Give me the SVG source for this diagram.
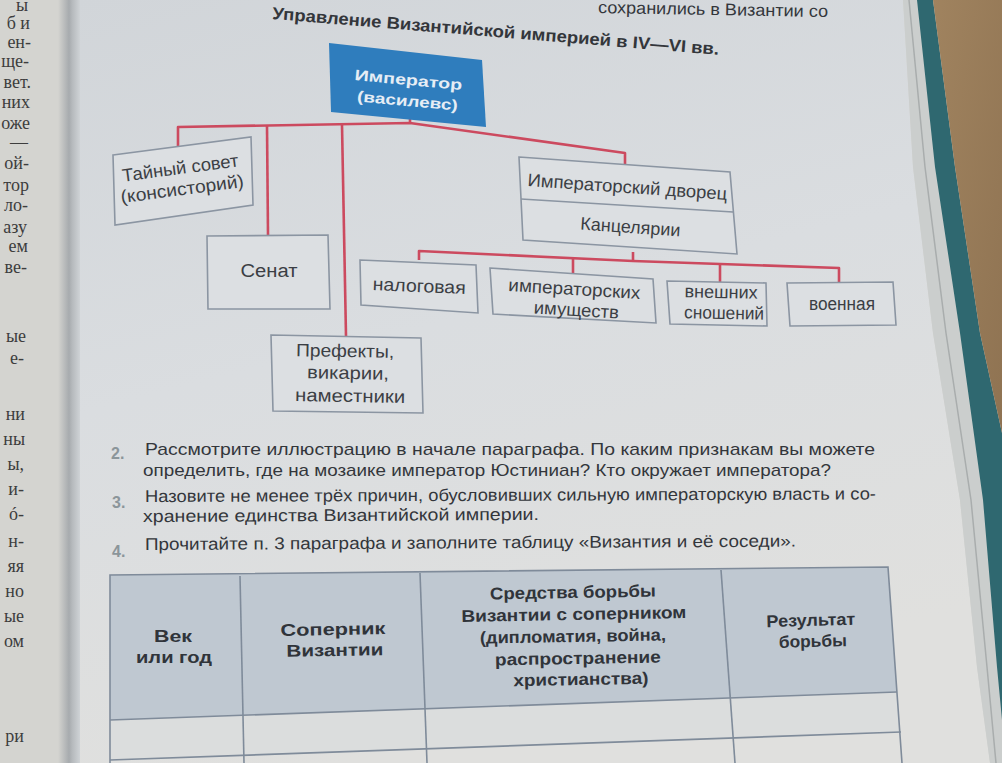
<svg xmlns="http://www.w3.org/2000/svg" width="1002" height="763" viewBox="0 0 1002 763">
<defs>
<linearGradient id="pageR" x1="0" y1="0" x2="0.3" y2="1">
<stop offset="0" stop-color="#d1d5d9"/>
<stop offset="0.5" stop-color="#dadde0"/>
<stop offset="1" stop-color="#e0e0de"/>
</linearGradient>
<linearGradient id="gutter" x1="0" y1="0" x2="1" y2="0">
<stop offset="0" stop-color="#d4d4d0"/>
<stop offset="0.5" stop-color="#a7abae"/>
<stop offset="0.65" stop-color="#b6babd"/>
<stop offset="1" stop-color="#cfd3d6"/>
</linearGradient>
<linearGradient id="wood" x1="0" y1="0" x2="1" y2="1">
<stop offset="0" stop-color="#a0835f"/>
<stop offset="1" stop-color="#8f7352"/>
</linearGradient>
<style>
.box{fill:#dcdfe2;stroke:#8b95a2;stroke-width:1.6}
.bt{font-family:"Liberation Sans","Open Sans",sans-serif;font-size:18px;fill:#3b3e44;text-anchor:middle}
.emp{font-family:"Liberation Sans","Open Sans",sans-serif;font-size:15px;font-weight:bold;fill:#e6edf5;text-anchor:middle}
.conn{fill:none;stroke:#cc4a5f;stroke-width:2.6;stroke-linejoin:round}
.q{font-family:"Liberation Sans","Open Sans",sans-serif;font-size:17px;fill:#33363b}
.qn{font-family:"Liberation Sans","Open Sans",sans-serif;font-size:16px;font-weight:bold;fill:#8b959a}
.th{font-family:"Liberation Sans","Open Sans",sans-serif;font-size:17px;font-weight:bold;fill:#30343a;text-anchor:middle}
.tl{fill:none;stroke:#7f8b9a;stroke-width:1.6}
.lp{font-family:"Liberation Serif","DejaVu Serif",serif;font-size:18px;fill:#3d3d3d;text-anchor:end}
</style>
</defs>

<!-- background -->
<g id="background">
<rect x="0" y="0" width="1002" height="763" fill="#d4d4d0"/>
<polygon points="72,0 903,0 913,167 933,333 960,500 977,667 990,763 72,763" fill="url(#pageR)"/>
<rect x="58" y="0" width="22" height="763" fill="url(#gutter)"/>
<polygon points="903,0 917,0 935,167 960,333 983,500 997,667 1002,720 1002,763 990,763 977,667 960,500 933,333 913,167" fill="#cbcecd"/>
<polyline points="909,0 925,167 946,333 971,500 987,667 996,763" fill="none" stroke="#a9adad" stroke-width="1.5"/>
<polygon points="917,0 933,0 955,167 980,333 1002,433 1002,720 997,667 983,500 960,333 935,167" fill="#2f6870"/>
<polygon points="933,0 1002,0 1002,433 980,333 955,167" fill="url(#wood)"/>
</g>

<!-- left page fragments -->
<g id="left-page">
<text class="lp" x="28" y="11" font-size="11">ы</text>
<text class="lp" x="30" y="29">б и</text>
<text class="lp" x="31" y="48">ен-</text>
<text class="lp" x="29" y="67">ще-</text>
<text class="lp" x="31" y="88">вет.</text>
<text class="lp" x="30" y="108">них</text>
<text class="lp" x="30" y="129">оже</text>
<text class="lp" x="28" y="148">—</text>
<text class="lp" x="29" y="169">ой-</text>
<text class="lp" x="29" y="191">тор</text>
<text class="lp" x="28" y="211">ло-</text>
<text class="lp" x="27" y="233">азу</text>
<text class="lp" x="28" y="252">ем</text>
<text class="lp" x="27" y="273">ве-</text>
<text class="lp" x="26" y="342">ые</text>
<text class="lp" x="24" y="364">е-</text>
<text class="lp" x="25" y="420">ни</text>
<text class="lp" x="25" y="445">ны</text>
<text class="lp" x="24" y="470">ы,</text>
<text class="lp" x="24" y="495">и-</text>
<text class="lp" x="24" y="520">ó-</text>
<text class="lp" x="24" y="547">н-</text>
<text class="lp" x="24" y="572">яя</text>
<text class="lp" x="24" y="597">но</text>
<text class="lp" x="24" y="622">ые</text>
<text class="lp" x="24" y="647">ом</text>
<text class="lp" x="24" y="742">ри</text>
</g>

<!-- header texts -->
<g id="page-header">
<text class="q" x="598" y="13" font-size="15" textLength="230" lengthAdjust="spacingAndGlyphs" transform="rotate(1 598 13)">сохранились в Византии со</text>
<text class="q" x="272" y="19" font-size="18" font-weight="bold" fill="#2c2f34" textLength="448" lengthAdjust="spacingAndGlyphs" transform="rotate(4.6 272 19)">Управление Византийской империей в IV—VI вв.</text>
</g>

<!-- connectors -->
<g id="connectors">
<polyline class="conn" points="178,147 178,127 410,123 625,153 625,164"/>
<line class="conn" x1="410" y1="123" x2="410" y2="119"/>
<line class="conn" x1="267" y1="126" x2="268" y2="235"/>
<line class="conn" x1="342" y1="125" x2="346" y2="336"/>
<polyline class="conn" points="419,260 419,251 633,261 839,268 839,283"/>
<line class="conn" x1="633" y1="252" x2="633" y2="261"/>
<line class="conn" x1="573" y1="258" x2="573" y2="273"/>
<line class="conn" x1="720" y1="264" x2="720" y2="282"/>
</g>

<!-- nodes -->
<g id="node-emperor">
<polygon points="329,43 482,60 486,127 331,112" fill="#2f7dbd"/>
<text class="emp" x="408" y="85" textLength="108" lengthAdjust="spacingAndGlyphs" transform="rotate(5.3 408 85)">Император</text>
<text class="emp" x="407" y="106" textLength="101" lengthAdjust="spacingAndGlyphs" transform="rotate(5.3 407 106)">(василевс)</text>
</g>

<g id="node-council">
<polygon class="box" points="113,155 251,137 253,205 115,225"/>
<text class="bt" x="181" y="174" textLength="117" lengthAdjust="spacingAndGlyphs" transform="rotate(-7.5 181 174)">Тайный совет</text>
<text class="bt" x="183" y="195" textLength="124" lengthAdjust="spacingAndGlyphs" transform="rotate(-7.5 183 195)">(консисторий)</text>
</g>

<g id="node-senate">
<polygon class="box" points="207,236 328,235 330,309 208,309"/>
<text class="bt" x="269" y="277" textLength="57" lengthAdjust="spacingAndGlyphs">Сенат</text>
</g>

<g id="node-prefects">
<polygon class="box" points="271,335 421,338 423,413 273,411"/>
<text class="bt" x="345" y="357" textLength="98" lengthAdjust="spacingAndGlyphs" transform="rotate(1 345 357)">Префекты,</text>
<text class="bt" x="348" y="379" textLength="82" lengthAdjust="spacingAndGlyphs" transform="rotate(1 348 379)">викарии,</text>
<text class="bt" x="350" y="402" textLength="110" lengthAdjust="spacingAndGlyphs" transform="rotate(1 350 402)">наместники</text>
</g>

<g id="node-palace">
<polygon class="box" points="519,157 730,172 737,254 523,240"/>
<line class="box" x1="521" y1="199" x2="733" y2="212"/>
<text class="bt" x="627" y="193" textLength="200" lengthAdjust="spacingAndGlyphs" transform="rotate(4 627 193)">Императорский дворец</text>
<text class="bt" x="630" y="233" textLength="100" lengthAdjust="spacingAndGlyphs" transform="rotate(4 630 233)">Канцелярии</text>
</g>

<g id="node-tax">
<polygon class="box" points="360,260 476,265 478,313 361,305"/>
<text class="bt" x="419" y="292" textLength="93" lengthAdjust="spacingAndGlyphs" transform="rotate(2.5 419 292)">налоговая</text>
</g>

<g id="node-estates">
<polygon class="box" points="490,268 653,279 656,323 493,314"/>
<text class="bt" x="574" y="295" textLength="132" lengthAdjust="spacingAndGlyphs" transform="rotate(3.5 574 295)">императорских</text>
<text class="bt" x="576" y="316" textLength="85" lengthAdjust="spacingAndGlyphs" transform="rotate(3.5 576 316)">имуществ</text>
</g>

<g id="node-foreign">
<polygon class="box" points="667,281 766,283 767,326 670,324"/>
<text class="bt" x="721" y="298" textLength="73" lengthAdjust="spacingAndGlyphs" transform="rotate(1 721 298)">внешних</text>
<text class="bt" x="724" y="319" textLength="80" lengthAdjust="spacingAndGlyphs" transform="rotate(1 724 319)">сношений</text>
</g>

<g id="node-military">
<polygon class="box" points="787,283 893,282 896,325 790,326"/>
<text class="bt" x="842" y="310" textLength="66" lengthAdjust="spacingAndGlyphs">военная</text>
</g>

<!-- questions -->
<g id="questions">
<text class="qn" x="111" y="459">2.</text>
<text class="q" x="145" y="455" textLength="730" lengthAdjust="spacingAndGlyphs">Рассмотрите иллюстрацию в начале параграфа. По каким признакам вы можете</text>
<text class="q" x="143" y="476" textLength="688" lengthAdjust="spacingAndGlyphs">определить, где на мозаике император Юстиниан? Кто окружает императора?</text>
<text class="qn" x="112" y="508">3.</text>
<text class="q" x="145" y="502" textLength="731" lengthAdjust="spacingAndGlyphs" transform="rotate(-0.2 145 502)">Назовите не менее трёх причин, обусловивших сильную императорскую власть и со-</text>
<text class="q" x="143" y="522" textLength="396" lengthAdjust="spacingAndGlyphs" transform="rotate(-0.3 143 522)">хранение единства Византийской империи.</text>
<text class="qn" x="112" y="557">4.</text>
<text class="q" x="145" y="550" textLength="651" lengthAdjust="spacingAndGlyphs" transform="rotate(-0.3 145 550)">Прочитайте п. 3 параграфа и заполните таблицу «Византия и её соседи».</text>
</g>

<!-- table -->
<g id="table">
<polygon points="110,575 888,567 897,692 110,720" fill="#bfc8d1"/>
<polygon points="110,720 897,692 901,732 110,760" fill="#dbdddd"/>
<polyline class="tl" points="110,763 110,575 888,567 902,763"/>
<line class="tl" x1="110" y1="720" x2="897" y2="692"/>
<line class="tl" x1="110" y1="760" x2="901" y2="732"/>
<line class="tl" x1="240" y1="576" x2="244" y2="763"/>
<line class="tl" x1="420" y1="573" x2="427" y2="763"/>
<line class="tl" x1="721" y1="570" x2="735" y2="763"/>
<text class="th" x="173" y="642" textLength="38" lengthAdjust="spacingAndGlyphs">Век</text>
<text class="th" x="174" y="663" textLength="76" lengthAdjust="spacingAndGlyphs">или год</text>
<text class="th" x="333" y="635" textLength="105" lengthAdjust="spacingAndGlyphs" transform="rotate(-1 333 635)">Соперник</text>
<text class="th" x="335" y="656" textLength="97" lengthAdjust="spacingAndGlyphs" transform="rotate(-1 335 656)">Византии</text>
<text class="th" x="573" y="598" textLength="166" lengthAdjust="spacingAndGlyphs" transform="rotate(-1 573 598)">Средства борьбы</text>
<text class="th" x="574" y="620" textLength="225" lengthAdjust="spacingAndGlyphs" transform="rotate(-1 574 620)">Византии с соперником</text>
<text class="th" x="573" y="642" textLength="186" lengthAdjust="spacingAndGlyphs" transform="rotate(-1 573 642)">(дипломатия, война,</text>
<text class="th" x="578" y="664" textLength="166" lengthAdjust="spacingAndGlyphs" transform="rotate(-1 578 664)">распространение</text>
<text class="th" x="581" y="685" textLength="135" lengthAdjust="spacingAndGlyphs" transform="rotate(-1 581 685)">христианства)</text>
<text class="th" x="811" y="626" textLength="89" lengthAdjust="spacingAndGlyphs" transform="rotate(-1.5 811 626)">Результат</text>
<text class="th" x="813" y="647" textLength="68" lengthAdjust="spacingAndGlyphs" transform="rotate(-1.5 813 647)">борьбы</text>
</g>
</svg>
